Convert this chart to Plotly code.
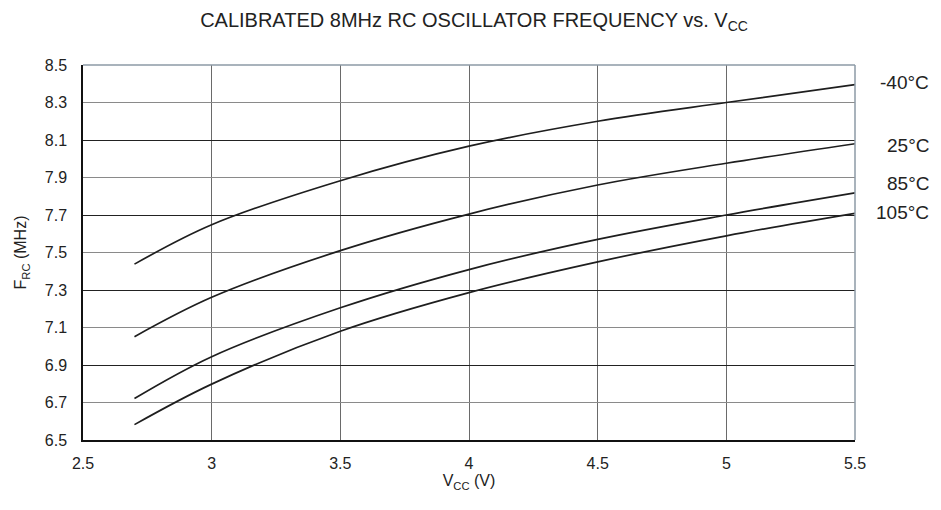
import plotly.graph_objects as go

vcc = [2.7, 3.0, 3.5, 4.0, 4.5, 5.0, 5.5]
f_m40 = [7.438, 7.648, 7.883, 8.067, 8.200, 8.300, 8.395]
f_25 = [7.051, 7.261, 7.510, 7.705, 7.860, 7.976, 8.080]
f_85 = [6.721, 6.944, 7.205, 7.409, 7.570, 7.700, 7.818]
f_105 = [6.582, 6.798, 7.080, 7.286, 7.450, 7.589, 7.709]
series = [("-40°C", f_m40, 2), ("25°C", f_25, -2), ("85°C", f_85, 9), ("105°C", f_105, 1)]

x_ticks = [2.5, 3, 3.5, 4, 4.5, 5, 5.5]
y_ticks = [6.5, 6.7, 6.9, 7.1, 7.3, 7.5, 7.7, 7.9, 8.1, 8.3, 8.5]
y_dark = [6.9, 7.3, 7.7, 8.1]

FONT = "Liberation Sans, Arial, sans-serif"
W, H = 933, 502
L, R, T, B = 69, 86, 57, 70
PW = W - L - R

fig = go.Figure()
for name, ys, shift in series:
    fig.add_trace(go.Scatter(x=vcc, y=ys, mode="lines", name=name,
                             line=dict(color="#1e1e1e", width=1.7, shape="spline", smoothing=1.0),
                             showlegend=False))
    fig.add_annotation(x=(924 - L) / PW, xref="paper", y=ys[-1], yref="y", text=name,
                       showarrow=False, xanchor="right", yanchor="middle", yshift=shift,
                       font=dict(family=FONT, size=19, color="#222"))

# darker gridlines on an overlay axis
fig.add_trace(go.Scatter(x=[None], y=[None], yaxis="y2", showlegend=False))

fig.update_layout(
    width=W, height=H,
    margin=dict(l=L, r=R, t=T, b=B),
    paper_bgcolor="white", plot_bgcolor="white",
    title=dict(text="CALIBRATED 8MHz RC OSCILLATOR FREQUENCY vs. V<sub>CC</sub>",
               x=466 / W, xanchor="center", y=1 - 12 / H, yanchor="middle",
               font=dict(family=FONT, size=20, color="#222")),
    font=dict(family=FONT, size=16, color="#222"),
    xaxis=dict(range=[2.5, 5.5], tickvals=x_ticks, ticktext=[str(v) for v in x_ticks],
               showgrid=True, gridcolor="#6a6a6a", gridwidth=1,
               showline=True, linecolor="#111", linewidth=1.5,
               ticks="outside", ticklen=8, tickcolor="rgba(0,0,0,0)",
               zeroline=False,
               title=dict(text="V<sub>CC</sub> (V)", standoff=4, font=dict(size=16, color="#222"))),
    yaxis=dict(range=[6.5, 8.5], tickvals=y_ticks, ticktext=[f"{v:.1f}" for v in y_ticks],
               showgrid=True, gridcolor="#8a8a8a", gridwidth=1,
               showline=True, linecolor="#111", linewidth=1.5,
               ticks="outside", ticklen=11, tickcolor="rgba(0,0,0,0)",
               zeroline=False,
               title=dict(text="F<sub>RC</sub> (MHz)", standoff=14, font=dict(size=16, color="#222"))),
    yaxis2=dict(range=[6.5, 8.5], overlaying="y", tickvals=y_dark, showticklabels=False,
                showgrid=True, gridcolor="#222", gridwidth=1, zeroline=False, side="left"),
)
fig.add_shape(type="line", xref="x domain", yref="y domain", x0=0, x1=1, y0=1, y1=1,
              line=dict(color="#8d9aa6", width=1.5))
fig.add_shape(type="line", xref="x domain", yref="y domain", x0=1, x1=1, y0=0, y1=1,
              line=dict(color="#8d9aa6", width=1.5))
fig.write_html("out.html")
